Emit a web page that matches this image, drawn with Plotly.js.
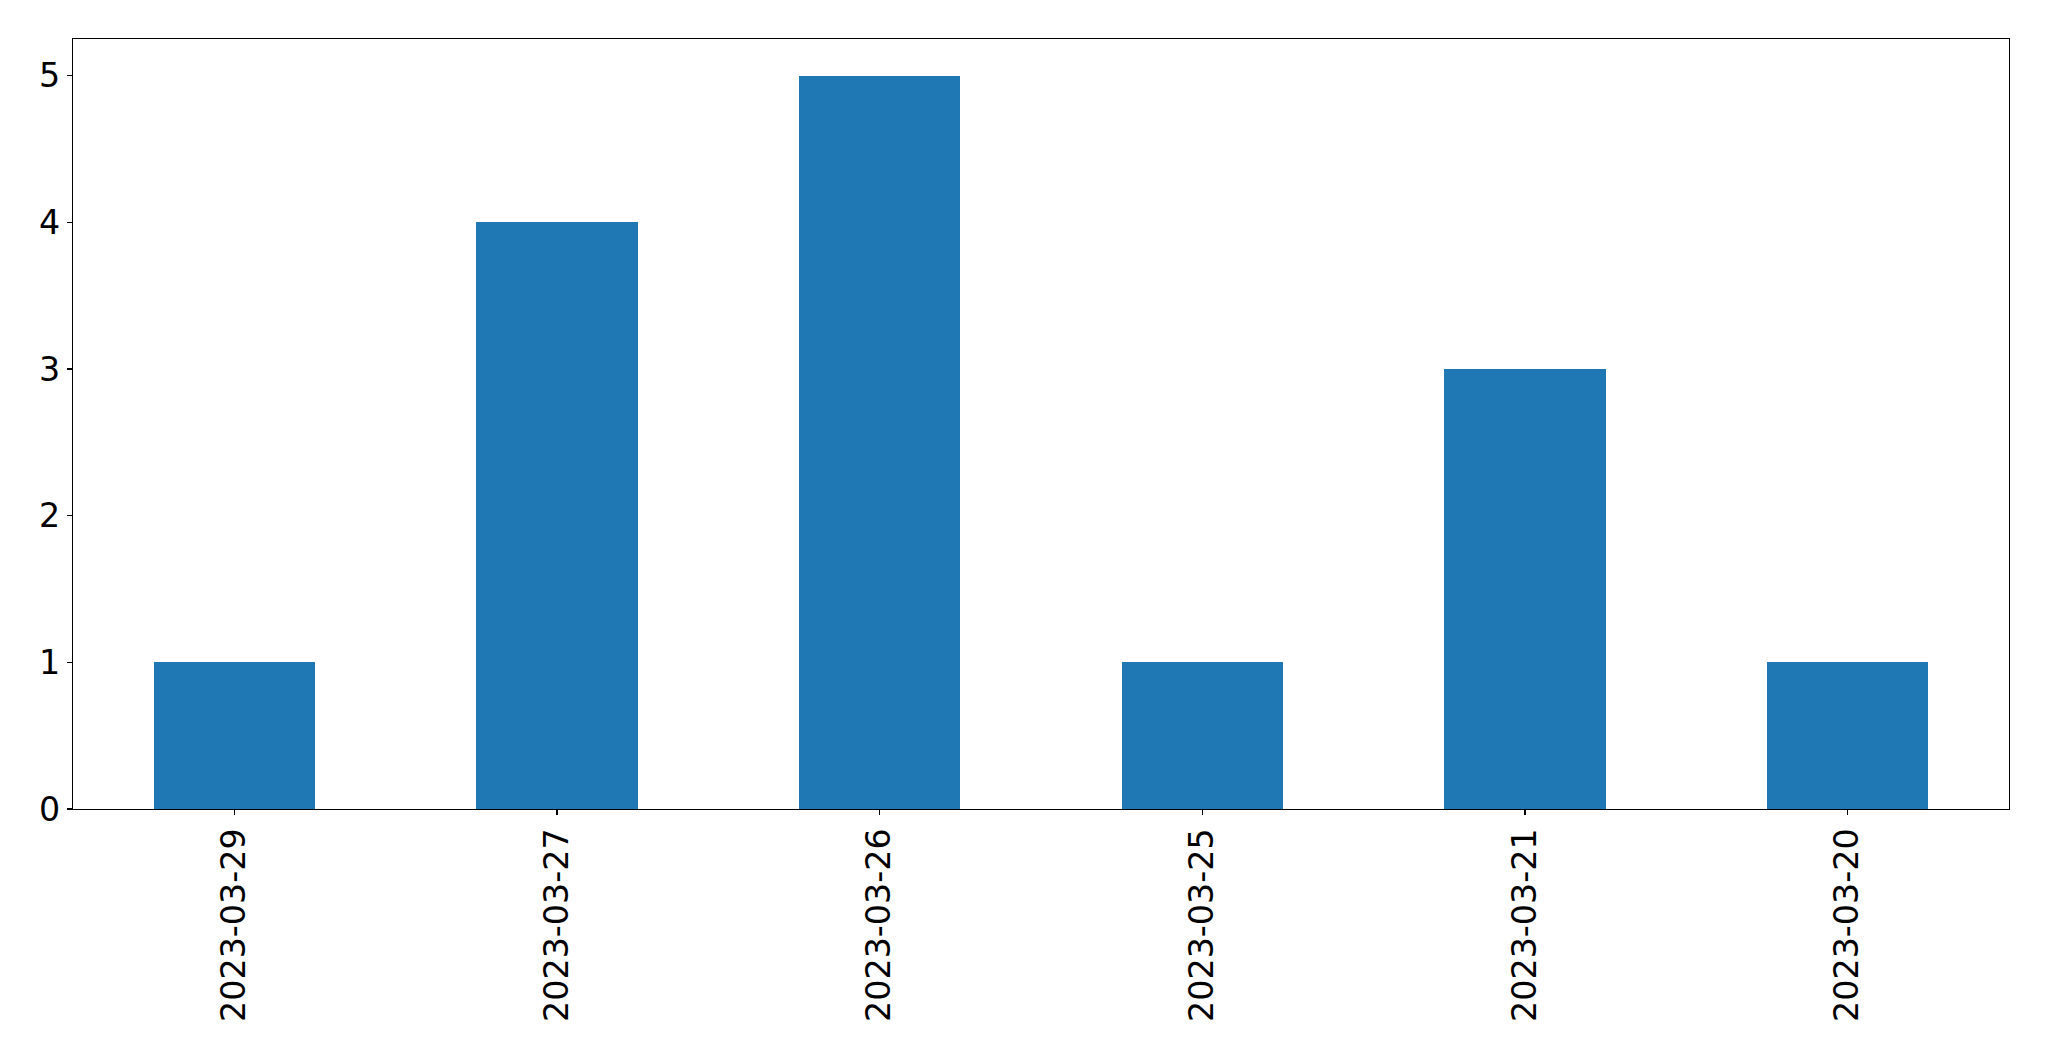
<!DOCTYPE html>
<html>
<head>
<meta charset="utf-8">
<script src="https://cdn.plot.ly/plotly-3.0.1.min.js"></script>
<style>html,body{margin:0;padding:0;background:#fff;}#chart{width:2049px;height:1061px;}</style>
</head>
<body>
<div id="chart"></div>
<script>
const categories = ["2023-03-29", "2023-03-27", "2023-03-26", "2023-03-25", "2023-03-21", "2023-03-20"];
const counts = [1, 4, 5, 1, 3, 1];
const yTicks = [0, 1, 2, 3, 4, 5];

const trace = {
  type: 'bar',
  x: categories,
  y: counts,
  width: 0.5,
  marker: {color: '#1f77b4', line: {width: 0}},
  hoverinfo: 'x+y'
};

const axisCommon = {
  showline: true,
  mirror: true,
  linecolor: '#000',
  linewidth: 1.1,
  ticks: 'outside',
  ticklen: 5,
  tickwidth: 1.1,
  tickcolor: '#000',
  showgrid: false,
  zeroline: false,
  tickfont: {family: 'DejaVu Sans', size: 33.3, color: '#000'}
};

const layout = {
  width: 2049,
  height: 1061,
  margin: {l: 73, r: 40, t: 39, b: 252},
  paper_bgcolor: '#fff',
  plot_bgcolor: '#fff',
  showlegend: false,
  bargap: 0,
  xaxis: Object.assign({}, axisCommon, {
    type: 'category',
    range: [-0.5, categories.length - 0.5],
    tickangle: -90,
    ticklabelstandoff: 0
  }),
  yaxis: Object.assign({}, axisCommon, {
    range: [0, 5.25],
    tickmode: 'array',
    tickvals: yTicks,
    ticktext: yTicks.map(String)
  })
};

Plotly.newPlot('chart', [trace], layout, {displayModeBar: false, staticPlot: true});
</script>
</body>
</html>
